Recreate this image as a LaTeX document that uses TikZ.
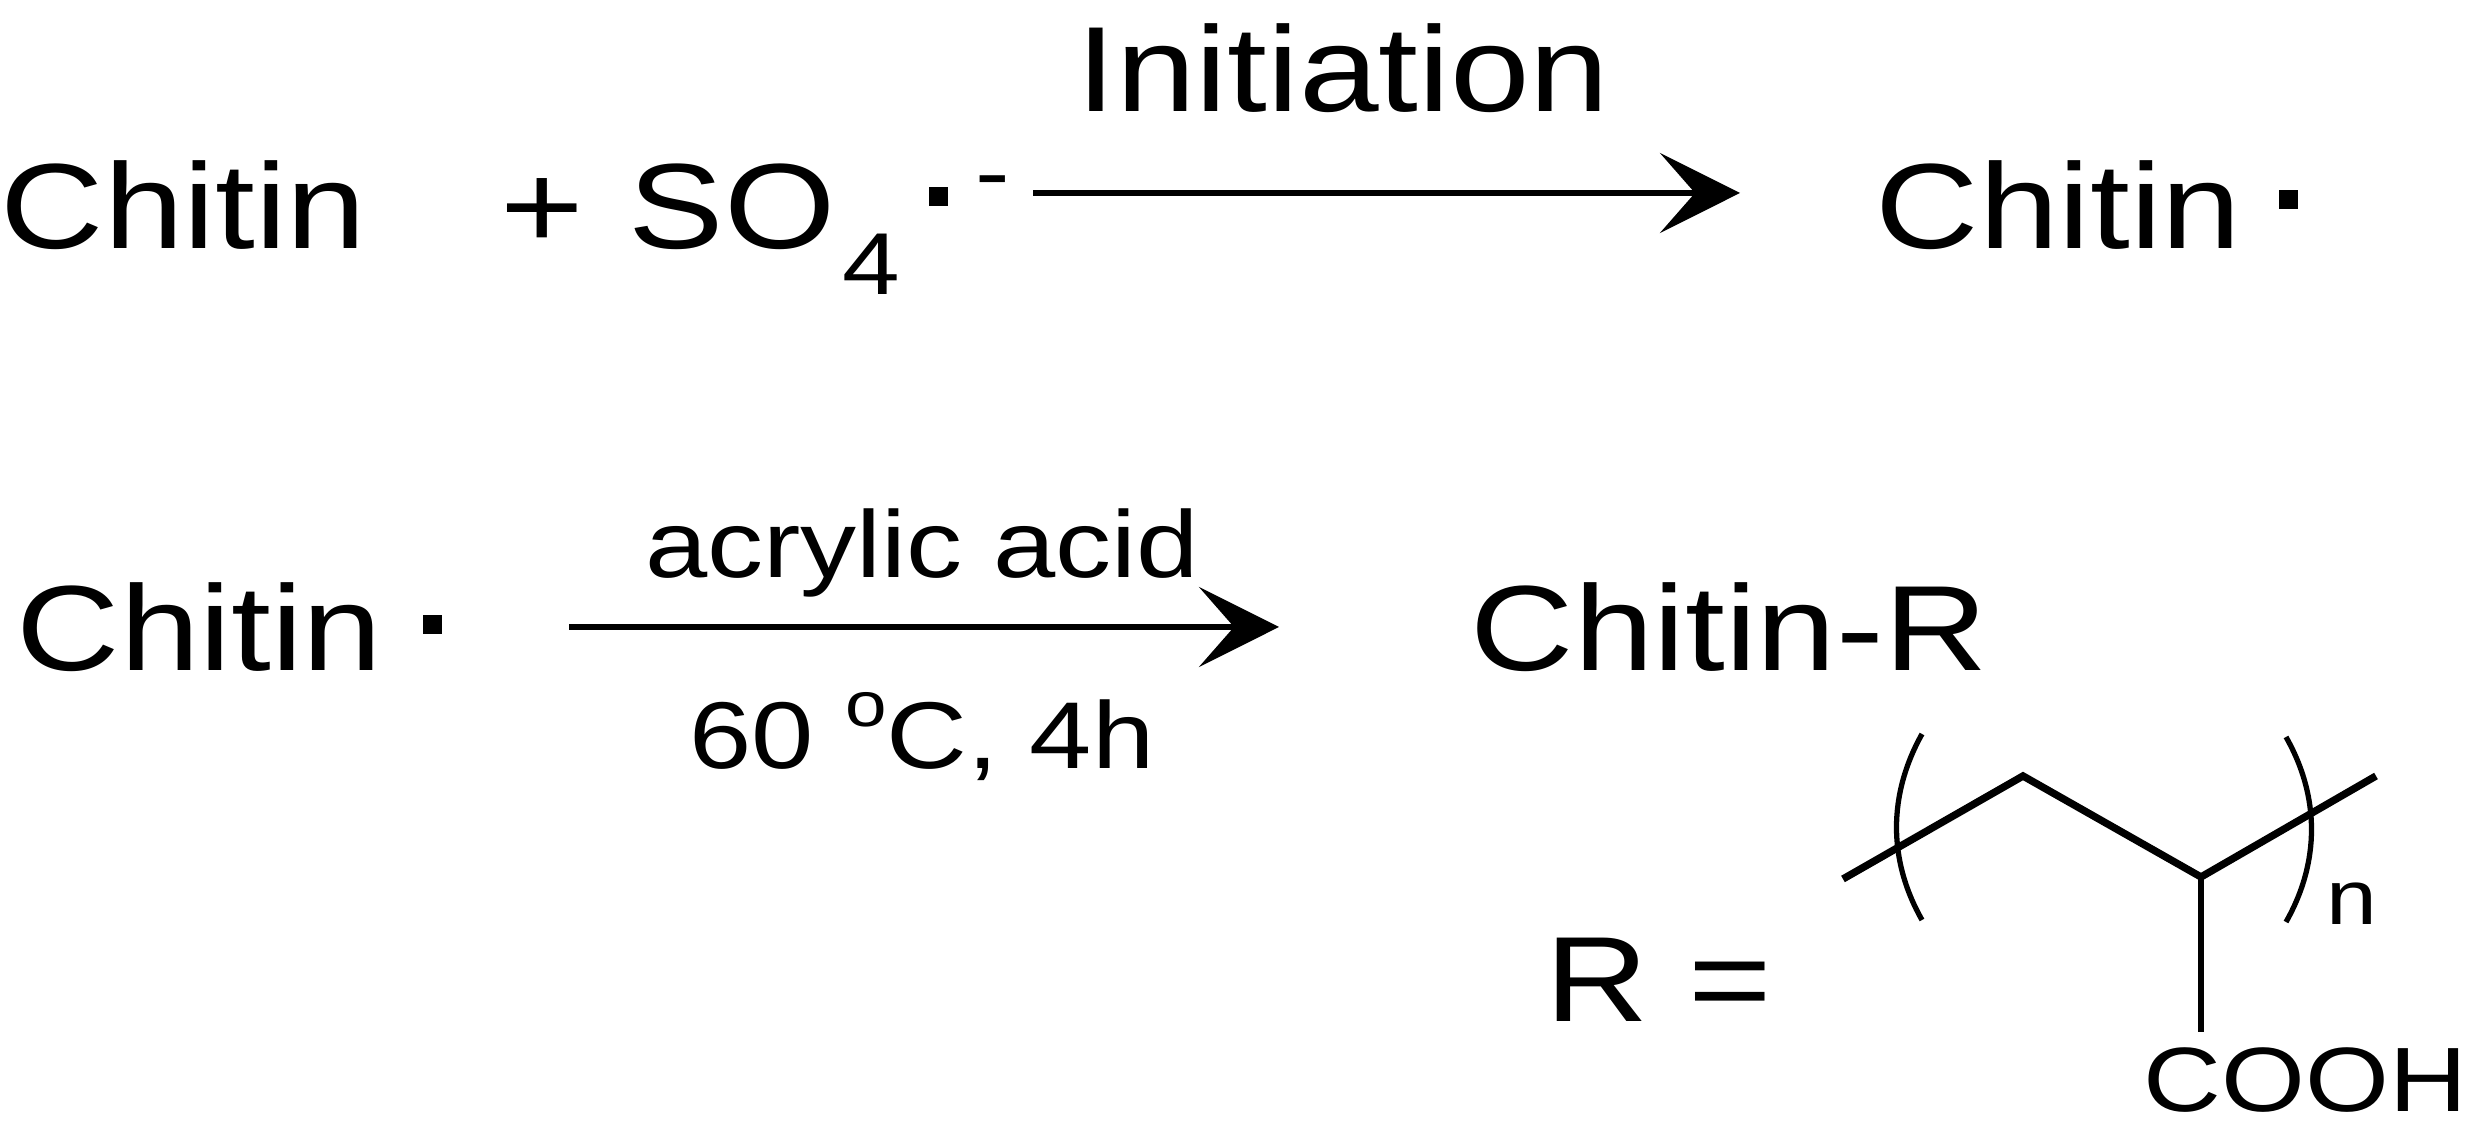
\documentclass[tikz,border=0pt]{standalone}
\usepackage{fontspec}
\setmainfont{Liberation Sans}[FakeStretch=1.18]
\usetikzlibrary{arrows.meta}
\begin{document}
\begin{tikzpicture}[x=0.1mm,y=-0.1mm,
  big/.style={inner sep=0pt,anchor=base west,font=\fontsize{34.5}{40}\selectfont},
  mid/.style={inner sep=0pt,anchor=base,font=\fontsize{27}{32}\selectfont},
  rad/.style={fill=black,minimum size=1.9mm,inner sep=0pt},
  rxn/.style={line width=1.7pt,-{Stealth[length=8mm,width=8mm,inset=3.5mm]}},
  bond/.style={line width=2.1pt},
  thin/.style={line width=1.5pt}]
\useasboundingbox (0,0) rectangle (2479,1126);
% row 1
\node[big] (c1) at (0,249) {Chitin};
\node[big] (plus) at (500,249) {+};
\node[big] (so) at (628,249) {SO};
\node[inner sep=0pt,anchor=base west,font=\fontsize{25}{30}\selectfont] (four) at (842,295) {4};
\node[rad] (r1) at (938,197) {};
\node[inner sep=0pt,anchor=center,font=\fontsize{25}{30}\selectfont] (minus) at (993,189) {-};
\coordinate (a1s) at (1033,193);
\coordinate (a1e) at (1740,193);
\draw[rxn] (a1s) -- (a1e);
\node[big,anchor=base] (init) at (1343,112) {Initiation};
\node[big] (c2) at (1875,249) {Chitin};
\node[rad] (r2) at (2288,200) {};
% row 2
\node[big] (c3) at (16,671) {Chitin};
\node[rad] (r3) at (432,625) {};
\coordinate (a2s) at (569,627);
\coordinate (a2e) at (1279,627);
\draw[rxn] (a2s) -- (a2e);
\node[mid] (aa) at (922,578) {acrylic acid};
\node[mid] (cond) at (922,769) {60 \raisebox{0.45em}{\fontsize{18}{20}\selectfont o}C, 4h};
\node[big] (cr) at (1470,671) {Chitin-R};
% R structure
\node[big] (req) at (1545,1022) {R =};
\coordinate (p1) at (1843,879);
\coordinate (p2) at (2023,776);
\coordinate (p3) at (2201,877);
\coordinate (p4) at (2376,776);
\coordinate (p5) at (2201,1032);
\draw[bond,line join=miter] (p1) -- (p2) -- (p3) -- (p4);
\draw[thin] (p3) -- (p5);
\coordinate (lb1) at (1922,734);
\coordinate (lb2) at (1922,920);
\coordinate (rb1) at (2286,737);
\coordinate (rb2) at (2286,922);
\draw[thin] (lb1) .. controls (1888,795) and (1888,860) .. (lb2);
\draw[thin] (rb1) .. controls (2320,797) and (2320,862) .. (rb2);
\node[inner sep=0pt,anchor=base west,font=\fontsize{22}{26}\selectfont] (n) at (2326,925) {n};
\node[inner sep=0pt,anchor=base east,font=\fontsize{26}{30}\selectfont] (cooh) at (2468,1112) {COOH};
\end{tikzpicture}
\end{document}
